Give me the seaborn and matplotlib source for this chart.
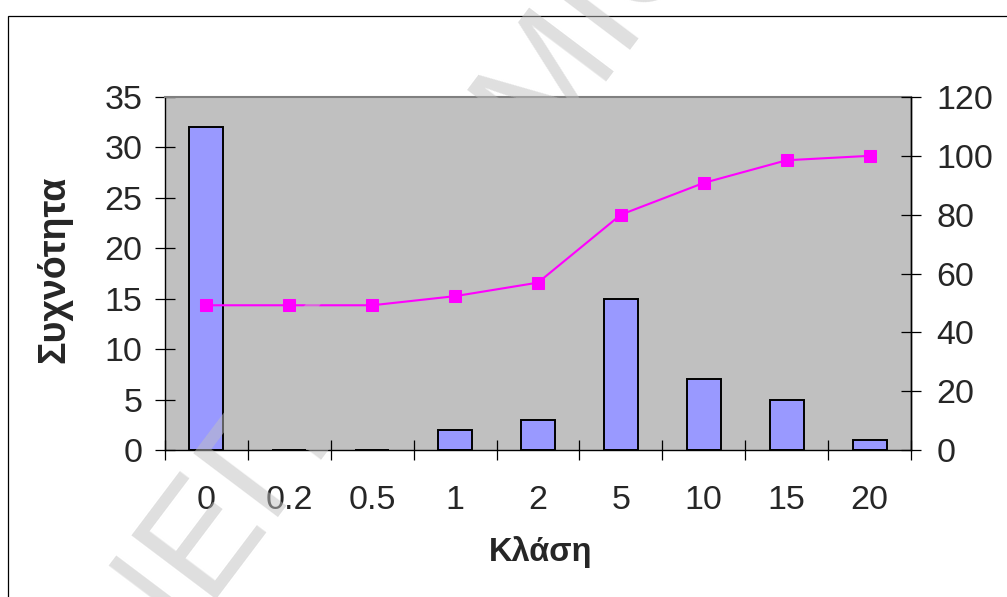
import matplotlib
matplotlib.use("Agg")
import numpy as np
import pandas as pd
import seaborn as sns
import matplotlib.pyplot as plt
from matplotlib.patches import Rectangle

# Frequency table: class limits, counts and cumulative percentage
classes = ["0", "0.2", "0.5", "1", "2", "5", "10", "15", "20"]
frequency = [32, 0, 0, 2, 3, 15, 7, 5, 1]
cumulative_pct = [49.2, 49.2, 49.2, 52.3, 56.9, 80.0, 90.8, 98.5, 100.0]
left_ticks = [0, 5, 10, 15, 20, 25, 30, 35]
right_ticks = [0, 20, 40, 60, 80, 100, 120]

df = pd.DataFrame({"Κλάση": classes,
                   "Συχνότητα": frequency,
                   "Αθροιστικό %": cumulative_pct})

sns.set_theme(style="white")
plt.rcParams["font.family"] = ["Liberation Sans", "DejaVu Sans"]

W, H = 1007, 597
TICK_FS = 24.5
fig = plt.figure(figsize=(W / 100, H / 100), dpi=100)
fig.patch.set_facecolor("white")

# outer chart frame
fig.add_artist(Rectangle((8 / W, -0.2), 1.5, (H - 16) / H + 0.2,
                         transform=fig.transFigure, fill=False,
                         edgecolor="black", linewidth=0.9, zorder=0))

ax = fig.add_axes([165 / W, (H - 450) / H, (911 - 165) / W, (450 - 97) / H])
ax.set_facecolor("#C0C0C0")

sns.barplot(data=df, x="Κλάση", y="Συχνότητα", ax=ax, color="#9999FF",
            saturation=1, width=0.41, edgecolor="black", linewidth=1.4)

ax.set_xlim(-0.5, len(classes) - 0.5)
ax.set_ylim(0, 35)
ax.set_yticks(left_ticks)
ax.set_xticks(range(len(classes)))
ax.set_xticklabels(classes)
ax.set_xticks(np.arange(-0.5, len(classes), 1.0), minor=True)
ax.tick_params(axis="y", which="major", direction="inout", length=14.4,
               width=0.9, color="black", labelsize=TICK_FS, pad=9, left=True)
ax.tick_params(axis="x", which="major", length=0, labelsize=TICK_FS, pad=25)
ax.tick_params(axis="x", which="minor", direction="inout", length=14.4,
               width=0.9, color="black", bottom=True)
ax.set_xlabel("")
ax.set_ylabel("")
for name, sp in ax.spines.items():
    sp.set_visible(True)
    sp.set_linewidth(1.0)
    sp.set_color("black")
ax.spines["top"].set_color("#808080")
ax.spines["top"].set_linewidth(1.5)

# cumulative percentage on the secondary axis
ax2 = ax.twinx()
sns.lineplot(data=df, x="Κλάση", y="Αθροιστικό %", ax=ax2, color="#FF00FF",
             marker="s", markersize=8, markeredgecolor="#FF00FF",
             linewidth=1.5, sort=False)
ax2.set_xlim(-0.5, len(classes) - 0.5)
ax2.set_ylim(0, 120)
ax2.set_yticks(right_ticks)
ax2.set_ylabel("")
ax2.tick_params(axis="y", which="major", direction="inout", length=14.4,
                width=0.9, color="black", labelsize=TICK_FS, pad=11, right=True)
for sp in ax2.spines.values():
    sp.set_visible(False)
ax2.spines["right"].set_visible(True)
ax2.spines["right"].set_color("black")
ax2.spines["right"].set_linewidth(1.0)

fig.text(54 / W, 1 - 269 / H, "Συχνότητα", rotation=90, ha="center",
         va="center", fontsize=27, fontweight="bold")
fig.text(541 / W, 1 - 561 / H, "Κλάση", ha="center", va="baseline",
         fontsize=23.5, fontweight="bold")

# diagonal watermark
fig.text(8.6 / W, (H - 858) / H, "ΠΑΝΕΠΙΣΤΗΜΙΟ", rotation=53,
         rotation_mode="anchor", ha="left", va="baseline", fontsize=111,
         color="#C0C0C0", alpha=0.5, zorder=10)

fig.savefig("out.png", dpi=100, facecolor="white")
